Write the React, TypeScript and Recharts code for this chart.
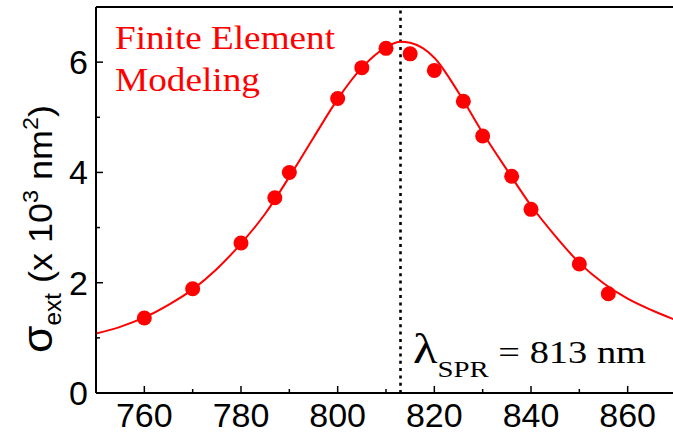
import {
  ComposedChart,
  Line,
  Scatter,
  XAxis,
  YAxis,
  ReferenceLine,
} from 'recharts';

// simulated extinction cross-section (finite element), x = wavelength (nm), y = sigma (x10^3 nm^2)
const simWavelength = [760, 770, 780, 787, 790, 800, 805, 810, 815, 820, 826, 830, 836, 840, 850, 856];
const simSigma = [1.36, 1.89, 2.72, 3.54, 4.0, 5.34, 5.9, 6.25, 6.15, 5.85, 5.29, 4.66, 3.93, 3.33, 2.34, 1.8];

// fitted curve
const fitWavelength = [750, 755, 760, 765, 770, 775, 780, 785, 790, 795, 800, 805, 810, 813, 815, 820, 825, 830, 835, 840, 845, 850, 855, 860, 865, 870];
const fitSigma = [1.08, 1.2, 1.37, 1.6, 1.88, 2.25, 2.71, 3.25, 3.92, 4.63, 5.33, 5.9, 6.27, 6.37, 6.35, 6.08, 5.45, 4.72, 4.05, 3.4, 2.85, 2.36, 1.99, 1.71, 1.5, 1.32];

const xTicks = [760, 770, 780, 790, 800, 810, 820, 830, 840, 850, 860];
const yTicks = [0, 1, 2, 3, 4, 5, 6];
const spr = 813;

const points = simWavelength.map((x, i) => ({ x, y: simSigma[i] }));
const fit = fitWavelength.map((x, i) => ({ x, y: fitSigma[i] }));

const SANS = 'Liberation Sans, Arial, sans-serif';
const SERIF = 'Liberation Serif, Times New Roman, serif';

function XTick(props: any) {
  const { x, y, payload } = props;
  const major = payload.value % 20 === 0;
  return (
    <g>
      <line x1={x} x2={x} y1={y} y2={y - (major ? 7 : 4)} stroke="#000" strokeWidth={1.5} />
      {major && (
        <text x={x} y={y + 34} textAnchor="middle" fontSize={34} fontFamily={SANS} fill="#000">
          {payload.value}
        </text>
      )}
    </g>
  );
}

function YTick(props: any) {
  const { x, y, payload } = props;
  const major = payload.value % 2 === 0;
  return (
    <g>
      <line x1={x} x2={x + (major ? 7 : 4)} y1={y} y2={y} stroke="#000" strokeWidth={1.5} />
      {major && (
        <text x={x - 8} y={y + 12} textAnchor="end" fontSize={34} fontFamily={SANS} fill="#000">
          {payload.value}
        </text>
      )}
    </g>
  );
}

export default function App() {
  return (
    <div style={{ position: 'absolute', left: 0, top: 0, background: '#fff' }}>
      <ComposedChart width={673} height={435} margin={{ top: 7, right: -3, left: 0, bottom: 0 }}>
        <XAxis
          dataKey="x"
          type="number"
          domain={[750, 870]}
          ticks={xTicks}
          allowDataOverflow
          height={42}
          tickSize={0}
          tickMargin={0}
          tickLine={false}
          tick={<XTick />}
          axisLine={{ stroke: '#000', strokeWidth: 2 }}
        />
        <YAxis
          type="number"
          domain={[0, 7]}
          ticks={yTicks}
          allowDataOverflow
          width={96}
          tickSize={0}
          tickMargin={0}
          tickLine={false}
          tick={<YTick />}
          axisLine={{ stroke: '#000', strokeWidth: 2 }}
        />
        <ReferenceLine y={7} stroke="#000" strokeWidth={2} />
        <ReferenceLine x={spr} stroke="#000" strokeWidth={2.6} strokeDasharray="3 4.3" />
        <Line
          data={fit}
          dataKey="y"
          type="monotone"
          stroke="#ff0000"
          strokeWidth={2}
          dot={false}
          activeDot={false}
          isAnimationActive={false}
        />
        <Scatter data={points} dataKey="y" fill="#ff0000" isAnimationActive={false}
          shape={(p: any) => <circle cx={p.cx} cy={p.cy} r={7.5} fill="#ff0000" />} />
        <text x={115} y={49} fontSize={34} fontFamily={SERIF} fill="#ff0000"
          textLength={220} lengthAdjust="spacingAndGlyphs">Finite Element</text>
        <text x={115} y={91} fontSize={34} fontFamily={SERIF} fill="#ff0000"
          textLength={145} lengthAdjust="spacingAndGlyphs">Modeling</text>
        <text x={413} y={363} fontFamily={SERIF} fill="#000" textLength={233} lengthAdjust="spacingAndGlyphs">
          <tspan fontSize={42}>λ</tspan>
          <tspan fontSize={24} dy={14}>SPR</tspan>
          <tspan fontSize={32} dy={-14}> = 813 nm</tspan>
        </text>
        <text transform="translate(52,229) rotate(-90)" textAnchor="middle" fontFamily={SANS} fill="#000"
          textLength={248} lengthAdjust="spacingAndGlyphs">
          <tspan fontSize={42}>σ</tspan>
          <tspan fontSize={23} dy={9}>ext</tspan>
          <tspan fontSize={34} dy={-9}> (x 10</tspan>
          <tspan fontSize={22} dy={-14}>3</tspan>
          <tspan fontSize={34} dy={14}> nm</tspan>
          <tspan fontSize={22} dy={-14}>2</tspan>
          <tspan fontSize={34} dy={14}>)</tspan>
        </text>
      </ComposedChart>
    </div>
  );
}
